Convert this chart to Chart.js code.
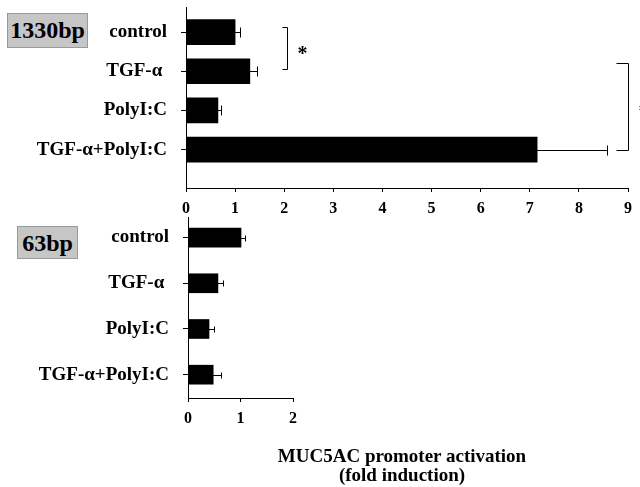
<!DOCTYPE html>
<html>
<head>
<meta charset="utf-8">
<script src="https://cdn.jsdelivr.net/npm/chart.js@4.4.1/dist/chart.umd.min.js"></script>
<style>
  body { margin: 0; background: #fff; }
  #wrap { position: relative; width: 640px; height: 487px; overflow: hidden; font-family: "Liberation Serif", serif; }
  .panel { position: absolute; left: 0; width: 640px; }
  .tag { position: absolute; background: #c6c6c6; border: 1px solid #9a9a9a; font-weight: bold; font-size: 24px;
         text-align: center; box-sizing: border-box; line-height: 33px; color: #000; }
  #xtitle { position: absolute; left: 252px; width: 300px; top: 446px; text-align: center; font-weight: bold;
            font-size: 19px; line-height: 19px; color: #000; }
</style>
</head>
<body>
<div id="wrap">
  <div class="panel" style="top:0;height:222px"><canvas id="chart1330"></canvas></div>
  <div class="panel" style="top:210px;height:277px"><canvas id="chart63"></canvas></div>
  <div class="tag" style="left:7px;top:13px;width:81px;height:35px">1330bp</div>
  <div class="tag" style="left:17px;top:226px;width:61px;height:33px">63bp</div>
  <div id="xtitle">MUC5AC promoter activation<br>(fold induction)</div>
</div>
<script>
/* global Chart:false */

// categories, top to bottom
var categories = ["control", "TGF-\u03b1 ", "PolyI:C", "TGF-\u03b1+PolyI:C"];
var rows = [0, 1, 2, 3];

// 1330bp promoter construct
var fold1330 = [1.0, 1.3, 0.65, 7.15];
var err1330 = [0.1, 0.15, 0.06, 1.42];
var ticks1330 = [0, 1, 2, 3, 4, 5, 6, 7, 8, 9];

// 63bp promoter construct
var fold63 = [1.01, 0.57, 0.4, 0.48];
var err63 = [0.08, 0.1, 0.1, 0.15];
var ticks63 = [0, 1, 2];

// significance brackets: rows spanned, x value of the bracket
var brackets1330 = [
  { from: -0.12, to: 0.93, at: 2.06 },
  { from: 0.79, to: 3.0, at: 9.0 },
];

var serif = "'Liberation Serif', 'Times New Roman', serif";

var errorBars = {
  id: "errorBars",
  afterDatasetsDraw: function (chart, args, opts) {
    var ctx = chart.ctx;
    var xs = chart.scales.x;
    var ys = chart.scales.y;
    ctx.save();
    ctx.strokeStyle = "#000";
    ctx.lineWidth = 1;
    opts.values.forEach(function (v, i) {
      var x0 = xs.getPixelForValue(v);
      var x1 = xs.getPixelForValue(v + opts.errors[i]);
      var y = Math.round(ys.getPixelForValue(rows[i])) + 0.5;
      ctx.beginPath();
      ctx.moveTo(x0, y);
      ctx.lineTo(x1, y);
      ctx.moveTo(Math.round(x1) + 0.5, y - opts.cap);
      ctx.lineTo(Math.round(x1) + 0.5, y + opts.cap);
      ctx.stroke();
    });
    ctx.restore();
  },
};

var sigBrackets = {
  id: "sigBrackets",
  afterDraw: function (chart, args, opts) {
    if (!opts.list) return;
    var ctx = chart.ctx;
    var xs = chart.scales.x;
    var ys = chart.scales.y;
    ctx.save();
    ctx.strokeStyle = "#000";
    ctx.fillStyle = "#000";
    ctx.lineWidth = 1;
    opts.list.forEach(function (b, i) {
      var x = Math.round(xs.getPixelForValue(b.at)) + 0.5;
      var y0 = Math.round(ys.getPixelForValue(b.from)) + 0.5;
      var y1 = Math.round(ys.getPixelForValue(b.to)) + 0.5;
      var t = i === 0 ? 5 : 12;
      ctx.beginPath();
      ctx.moveTo(x - t, y0);
      ctx.lineTo(x, y0);
      ctx.lineTo(x, y1);
      ctx.lineTo(x - t, y1);
      ctx.stroke();
      ctx.font = "bold 20px " + serif;
      ctx.textAlign = "left";
      ctx.textBaseline = "middle";
      ctx.fillText("*", x + 10, (y0 + y1) / 2 + 6);
    });
    ctx.restore();
  },
};

function makeChart(id, values, errors, xTicks, opt) {
  var ctx = document.getElementById(id).getContext("2d");
  return new Chart(ctx, {
    type: "bar",
    data: {
      datasets: [
        {
          data: values.map(function (v, i) {
            return { x: v, y: rows[i] };
          }),
          backgroundColor: "#000",
          borderWidth: 0,
          barThickness: opt.barThickness,
        },
      ],
    },
    plugins: [errorBars, sigBrackets],
    options: {
      indexAxis: "y",
      responsive: true,
      maintainAspectRatio: false,
      animation: false,
      layout: { padding: { top: 7, right: opt.padRight, left: 0, bottom: 0 } },
      plugins: {
        legend: { display: false },
        tooltip: { enabled: false },
        errorBars: { values: values, errors: errors, cap: opt.cap },
        sigBrackets: { list: opt.brackets },
      },
      scales: {
        x: {
          type: "linear",
          min: xTicks[0],
          max: xTicks[xTicks.length - 1],
          afterBuildTicks: function (scale) {
            scale.ticks = xTicks.map(function (v) {
              return { value: v };
            });
          },
          afterFit: function (scale) {
            scale.height = opt.xHeight;
            scale.paddingLeft = 0;
            scale.paddingRight = 0;
          },
          border: { display: true, color: "#000", width: 1 },
          grid: { drawOnChartArea: false, color: "#000", tickLength: 4 },
          ticks: {
            color: "#000",
            padding: 7,
            maxRotation: 0,
            font: { family: serif, size: 16, weight: "bold" },
          },
        },
        y: {
          type: "linear",
          reverse: true,
          offset: false,
          min: opt.yMin,
          max: opt.yMax,
          afterBuildTicks: function (scale) {
            scale.ticks = rows.map(function (v) {
              return { value: v };
            });
          },
          afterFit: function (scale) {
            scale.width = opt.yWidth;
            scale.paddingTop = 0;
            scale.paddingBottom = 0;
          },
          border: { display: true, color: "#000", width: 1 },
          grid: { drawOnChartArea: false, offset: false, color: "#000", tickLength: 5 },
          ticks: {
            color: "#000",
            padding: 14,
            font: { family: serif, size: 19, weight: "bold" },
            callback: function (value) {
              return categories[value];
            },
          },
        },
      },
    },
  });
}

makeChart("chart1330", fold1330, err1330, ticks1330, {
  barThickness: 25,
  cap: 5,
  padRight: 12,
  xHeight: 34,
  yWidth: 186,
  yMin: -0.64,
  yMax: 3.98,
  brackets: brackets1330,
});

makeChart("chart63", fold63, err63, ticks63, {
  barThickness: 19,
  cap: 3,
  padRight: 347,
  xHeight: 89,
  yWidth: 188,
  yMin: -0.45,
  yMax: 3.51,
  brackets: null,
});
</script>
</body>
</html>
